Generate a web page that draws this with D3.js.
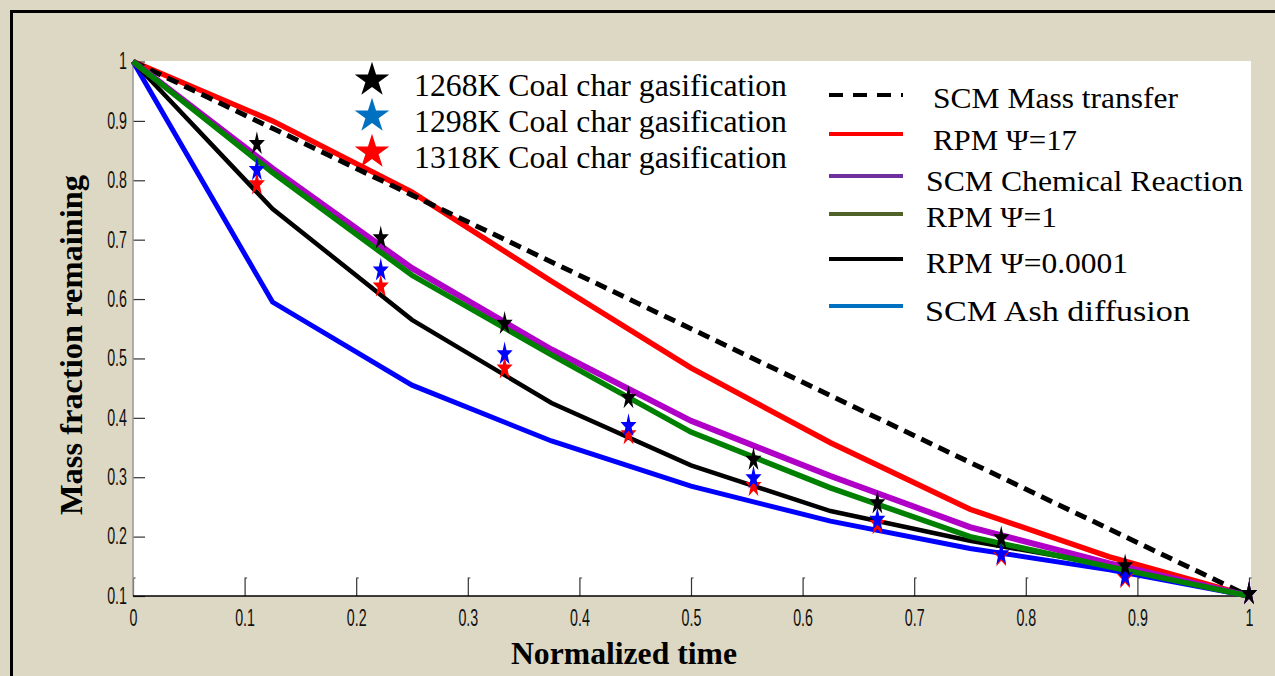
<!DOCTYPE html>
<html>
<head>
<meta charset="utf-8">
<script src="https://cdn.jsdelivr.net/npm/d3@7"></script>
<style>
  body { margin: 0; background: #fff; }
  svg { display: block; }
</style>
</head>
<body>
<svg width="1275" height="676"></svg>
<script>
// model curves are sampled at 1/8 steps, experiments at 1/9 steps
const modelTime = [0, 0.125, 0.25, 0.375, 0.5, 0.625, 0.75, 0.875, 1];
const scmMassTransfer = [1, 0.8875, 0.775, 0.6625, 0.55, 0.4375, 0.325, 0.2125, 0.1];
const rpm17 = [1, 0.9, 0.78, 0.63, 0.484, 0.358, 0.246, 0.166, 0.1];
const scmChemical = [1, 0.82, 0.652, 0.515, 0.395, 0.302, 0.216, 0.155, 0.1];
const rpm1 = [1, 0.813, 0.64, 0.506, 0.376, 0.282, 0.2, 0.149, 0.1];
const rpm00001 = [1, 0.752, 0.565, 0.425, 0.32, 0.243, 0.193, 0.152, 0.1];
const scmAsh = [1, 0.595, 0.455, 0.361, 0.285, 0.226, 0.18, 0.144, 0.1];

const expTime = [0.111, 0.222, 0.333, 0.444, 0.556, 0.667, 0.778, 0.889, 1];
const exp1268 = [0.858, 0.699, 0.555, 0.43, 0.326, 0.253, 0.194, 0.147, 0.1];
const exp1298 = [0.814, 0.645, 0.504, 0.383, 0.295, 0.225, 0.167, 0.13, 0.1];
const exp1318 = [0.79, 0.618, 0.48, 0.369, 0.282, 0.218, 0.164, 0.127, 0.1];

const xTicks = [0, 0.1, 0.2, 0.3, 0.4, 0.5, 0.6, 0.7, 0.8, 0.9, 1];
const yTicks = [0.1, 0.2, 0.3, 0.4, 0.5, 0.6, 0.7, 0.8, 0.9, 1];

const svg = d3.select("svg");
const beige = "#ddd8c4";

svg.append("rect").attr("width", 1275).attr("height", 676).attr("fill", beige);
svg.append("path").attr("d", "M11.5,676V11.5H1275").attr("fill", "none").attr("stroke", "#000").attr("stroke-width", 3);

const x = d3.scaleLinear().domain([0, 1]).range([133, 1249]);
const y = d3.scaleLinear().domain([0.1, 1]).range([596, 61.5]);

svg.append("rect").attr("x", 133).attr("y", 61).attr("width", 1251 - 133).attr("height", 596 - 61).attr("fill", "#fff");

// ticks (inside, matlab style)
const xAxis = svg.append("g").attr("transform", "translate(0,596)")
  .call(d3.axisBottom(x).tickValues(xTicks).tickSize(0).tickPadding(14).tickFormat(d3.format("")));
xAxis.select(".domain").remove();
xAxis.selectAll("text").attr("font-family", "Liberation Sans, Arial, sans-serif").attr("font-size", 23)
  .attr("fill", "#111").attr("transform", "scale(0.62,1)");
xAxis.selectAll(".tick").append("path").attr("d", "M0,0V-18h2").attr("fill", "none").attr("stroke", "#333").attr("stroke-width", 1.2);

const yAxis = svg.append("g").attr("transform", "translate(133,0)")
  .call(d3.axisLeft(y).tickValues(yTicks).tickSize(0).tickPadding(6).tickFormat(d3.format("")));
yAxis.select(".domain").remove();
yAxis.selectAll("text").attr("font-family", "Liberation Sans, Arial, sans-serif").attr("font-size", 23)
  .attr("fill", "#111").attr("transform", "scale(0.62,1)").attr("x", -6 / 0.62);
yAxis.selectAll(".tick").append("path").attr("d", "M0,0H12").attr("stroke", "#333").attr("stroke-width", 1.2);

svg.append("line").attr("x1", 133).attr("x2", 133).attr("y1", 61).attr("y2", 596).attr("stroke", "#999").attr("stroke-width", 1.5);
svg.append("line").attr("x1", 133).attr("x2", 1251).attr("y1", 596).attr("y2", 596).attr("stroke", "#000").attr("stroke-width", 1.5);

// model lines
const line = d3.line().x((d) => x(d[0])).y((d) => y(d[1]));
const models = [
  { values: scmAsh, color: "#0000ff", width: 5, dash: null },
  { values: rpm00001, color: "#000", width: 4.5, dash: null },
  { values: rpm17, color: "#ff0000", width: 5.5, dash: null },
  { values: scmMassTransfer, color: "#000", width: 5, dash: "12,7" },
  { values: scmChemical, color: "#b000c8", width: 6, dash: null },
  { values: rpm1, color: "#008000", width: 5.5, dash: null },
];
svg.append("g").selectAll("path")
  .data(models)
  .join("path")
  .attr("d", (d) => line(modelTime.map((t, i) => [t, d.values[i]])))
  .attr("fill", "none")
  .attr("stroke", (d) => d.color)
  .attr("stroke-width", (d) => d.width)
  .attr("stroke-dasharray", (d) => d.dash);

// experimental stars
const star = d3.symbol().type(d3.symbolStar).size(80);
const exps = [
  { values: exp1318, color: "#ff0000" },
  { values: exp1298, color: "#0000ff" },
  { values: exp1268, color: "#000" },
];
exps.forEach((s) => {
  svg.append("g").selectAll("path")
    .data(expTime.map((t, i) => [t, s.values[i]]))
    .join("path")
    .attr("d", star)
    .attr("transform", (d) => `translate(${x(d[0])},${y(d[1]) - 2}) scale(1,1.5)`)
    .attr("fill", s.color);
});

// legend for stars
const starLegend = [
  { label: "1268K Coal char gasification", color: "#000" },
  { label: "1298K Coal char gasification", color: "#0070c0" },
  { label: "1318K Coal char gasification", color: "#ff0000" },
];
const bigStar = d3.symbol().type(d3.symbolStar).size(370);
starLegend.forEach((d, i) => {
  const cy = 80 + i * 36;
  svg.append("path").attr("d", bigStar).attr("transform", `translate(372,${cy})`).attr("fill", d.color);
  svg.append("text").attr("x", 414).attr("y", cy + 16)
    .attr("font-family", "Liberation Serif, Times New Roman, serif").attr("font-size", 31)
    .attr("textLength", 373).attr("lengthAdjust", "spacingAndGlyphs")
    .text(d.label);
});

// legend for lines
const lineLegend = [
  { label: "SCM Mass transfer", color: "#000", dash: "14,10", ly: 95, tx: 933, ty: 108, w: 245 },
  { label: "RPM \u03a8=17", color: "#ff0000", dash: null, ly: 134, tx: 933, ty: 150, w: 144 },
  { label: "SCM Chemical Reaction", color: "#7030a0", dash: null, ly: 176, tx: 926, ty: 191, w: 317 },
  { label: "RPM \u03a8=1", color: "#4f6228", dash: null, ly: 214, tx: 926, ty: 227, w: 131 },
  { label: "RPM \u03a8=0.0001", color: "#000", dash: null, ly: 259, tx: 926, ty: 273, w: 202 },
  { label: "SCM Ash diffusion", color: "#0070c0", dash: null, ly: 306, tx: 925, ty: 321, w: 265 },
];
lineLegend.forEach((d) => {
  svg.append("line").attr("x1", 829).attr("x2", 903).attr("y1", d.ly).attr("y2", d.ly)
    .attr("stroke", d.color).attr("stroke-width", 4).attr("stroke-dasharray", d.dash);
  svg.append("text").attr("x", d.tx).attr("y", d.ty)
    .attr("font-family", "Liberation Serif, Times New Roman, serif").attr("font-size", 30)
    .attr("textLength", d.w).attr("lengthAdjust", "spacingAndGlyphs")
    .text(d.label);
});

// axis titles
svg.append("text").attr("x", 511).attr("y", 664)
  .attr("font-family", "Liberation Serif, Times New Roman, serif").attr("font-size", 31).attr("font-weight", "bold")
  .attr("textLength", 226).attr("lengthAdjust", "spacingAndGlyphs")
  .text("Normalized time");
svg.append("text").attr("transform", "translate(82,515) rotate(-90)")
  .attr("font-family", "Liberation Serif, Times New Roman, serif").attr("font-size", 31).attr("font-weight", "bold")
  .attr("textLength", 340).attr("lengthAdjust", "spacingAndGlyphs")
  .text("Mass fraction remaining");
</script>
</body>
</html>
